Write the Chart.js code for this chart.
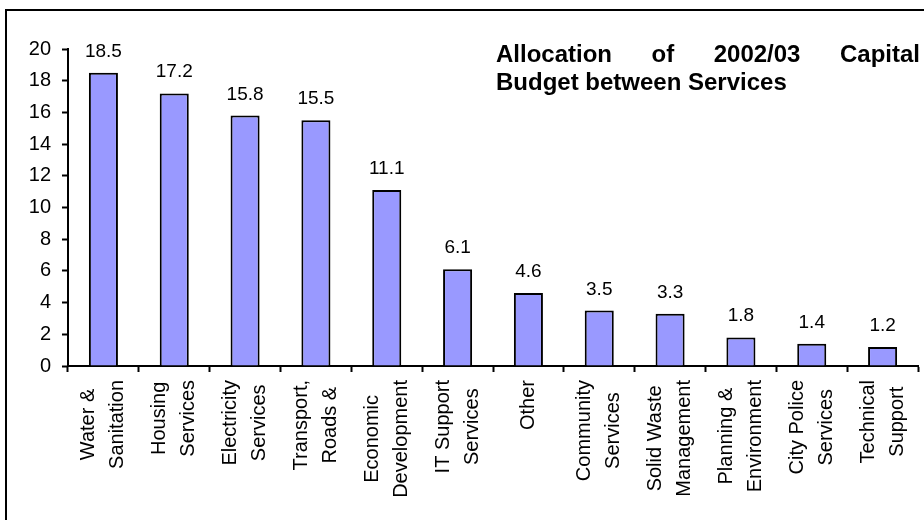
<!DOCTYPE html>
<html>
<head>
<meta charset="utf-8">
<script src="https://cdn.jsdelivr.net/npm/chart.js@4/dist/chart.umd.min.js"></script>
<style>
  html, body { margin: 0; padding: 0; background: #fff; }
  #wrap { position: relative; width: 924px; height: 520px; }
</style>
</head>
<body>
<div id="wrap"><canvas id="budget-chart" width="924" height="520"></canvas></div>
<script>
// ── Capital budget by service (R million) ─────────────────────────────────────
const categories = [
  ['Water &', 'Sanitation'], ['Housing', 'Services'], ['Electricity', 'Services'],
  ['Transport,', 'Roads &'], ['Economic', 'Development'], ['IT Support', 'Services'],
  ['Other'], ['Community', 'Services'], ['Solid Waste', 'Management'],
  ['Planning &', 'Environment'], ['City Police', 'Services'], ['Technical', 'Support']
];
const allocation = [18.5, 17.2, 15.8, 15.5, 11.1, 6.1, 4.6, 3.5, 3.3, 1.8, 1.4, 1.2];
const yTicks     = [0, 2, 4, 6, 8, 10, 12, 14, 16, 18, 20];
const titleLines = ['Allocation of 2002/03 Capital', 'Budget between Services'];

const FONT = '"Liberation Sans", Arial, Helvetica, sans-serif';

// outer frame, title, value labels and stacked rotated category labels
const decor = {
  id: 'decor',
  beforeDraw(chart) {
    const ctx = chart.ctx;
    ctx.save();
    ctx.strokeStyle = '#000';
    ctx.lineWidth = 2;
    ctx.strokeRect(6, 10, 960, 560);
    ctx.restore();
  },
  afterDraw(chart) {
    const ctx = chart.ctx;
    const xs = chart.scales.x;
    const meta = chart.getDatasetMeta(0);
    ctx.save();
    ctx.fillStyle = '#000';

    // values above bars
    ctx.font = `19px ${FONT}`;
    ctx.textAlign = 'center';
    ctx.textBaseline = 'alphabetic';
    meta.data.forEach((bar, i) => {
      ctx.fillText(allocation[i].toFixed(1), bar.x, bar.y - 16);
    });

    // category labels, rotated, lines centred on the longest one
    ctx.font = `20px ${FONT}`;
    const lh = 29, top = 380;
    categories.forEach((lines, i) => {
      const cx = xs.getPixelForValue(i);
      const w = Math.max(...lines.map(l => ctx.measureText(l).width));
      const cy = top + w / 2;
      lines.forEach((l, j) => {
        const off = (j - (lines.length - 1) / 2) * lh;
        ctx.save();
        ctx.translate(cx + off, cy);
        ctx.rotate(-Math.PI / 2);
        ctx.textAlign = 'center';
        ctx.textBaseline = 'middle';
        ctx.fillText(l, 0, 0);
        ctx.restore();
      });
    });

    // title: first line justified, second line left
    ctx.font = `bold 24px ${FONT}`;
    ctx.textAlign = 'left';
    ctx.textBaseline = 'alphabetic';
    const tx0 = 496, tx1 = 920;
    const words = titleLines[0].split(' ');
    const widths = words.map(w => ctx.measureText(w).width);
    const gap = (tx1 - tx0 - widths.reduce((s, v) => s + v, 0)) / (words.length - 1);
    let x = tx0;
    words.forEach((w, i) => { ctx.fillText(w, x, 62); x += widths[i] + gap; });
    ctx.fillText(titleLines[1], tx0, 90);
    ctx.restore();
  }
};

new Chart(document.getElementById('budget-chart'), {
  type: 'bar',
  data: {
    labels: categories,
    datasets: [{
      data: allocation,
      backgroundColor: '#9999FF',
      borderColor: '#000',
      borderWidth: 2,
      categoryPercentage: 1,
      barPercentage: 0.41
    }]
  },
  options: {
    responsive: false,
    animation: false,
    layout: { padding: { top: 49, right: 6, left: 0, bottom: 0 } },
    plugins: { legend: { display: false }, tooltip: { enabled: false } },
    scales: {
      x: {
        grid: { drawOnChartArea: false, drawTicks: true, tickLength: 6, color: '#000', tickWidth: 2 },
        border: { display: true, color: '#000', width: 2 },
        ticks: { display: false },
        afterFit: s => { s.height = 154; }
      },
      y: {
        min: 0, max: 20,
        afterBuildTicks: s => { s.ticks = yTicks.map(v => ({ value: v })); },
        grid: { drawOnChartArea: false, drawTicks: true, tickLength: 6, color: '#000', tickWidth: 2 },
        border: { display: true, color: '#000', width: 2 },
        ticks: { color: '#000', padding: 11, font: { family: FONT, size: 20 } },
        afterFit: s => { s.width = 68; }
      }
    }
  },
  plugins: [decor]
});
</script>
</body>
</html>
